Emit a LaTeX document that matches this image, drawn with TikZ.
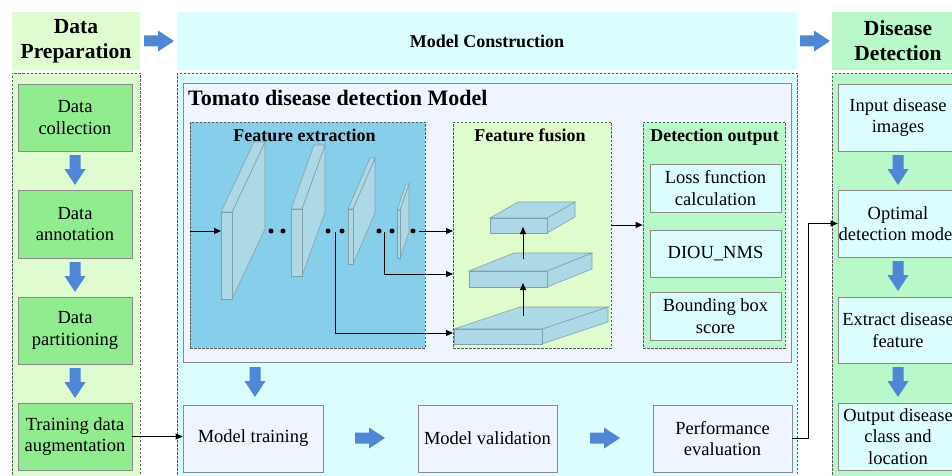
\documentclass[tikz,border=0pt]{standalone}
\usepackage{fontspec}
\setmainfont{Liberation Serif}
\usetikzlibrary{arrows.meta}

\definecolor{prepbg}{HTML}{DFFBD0}
\definecolor{prepbox}{HTML}{90EC8E}
\definecolor{cyanbg}{HTML}{DCFDFE}
\definecolor{panelbg}{HTML}{EEF5FE}
\definecolor{skyfill}{HTML}{87CEEB}
\definecolor{fusebg}{HTML}{DFFCCD}
\definecolor{detbg}{HTML}{B9F8C9}
\definecolor{slabfill}{HTML}{ADD8E6}
\definecolor{slabline}{HTML}{83A0AA}
\definecolor{flowblue}{HTML}{4F87D6}
\definecolor{boxline}{HTML}{8A8A8A}

% one 3-D feature map: front-left-top corner (#1,#2), width #3, height #4, depth offset (#5,#6)
\newcommand\slabbox[6]{%
  \begin{scope}[shift={(#1,#2)}]
    \filldraw[slab] (#3,0) -- ({#3+#5},#6) -- ({#3+#5},{#6+#4}) -- (#3,#4) -- cycle;
    \filldraw[slab] (0,0) -- (#5,#6) -- ({#3+#5},#6) -- (#3,0) -- cycle;
    \filldraw[slab] (0,0) rectangle (#3,#4);
  \end{scope}}

\begin{document}
\begin{tikzpicture}[x=1pt,y=-1pt,
  txt/.style={font=\fontsize{18.5}{21.5}\selectfont, align=center},
  box/.style={draw=boxline, line width=0.8pt, inner sep=0pt, txt},
  head/.style={font=\bfseries\fontsize{21.5}{25}\selectfont, align=center, inner sep=0pt},
  sub/.style={font=\bfseries\fontsize{18}{21}\selectfont, inner sep=0pt},
  frame/.style={draw=black!65, dash pattern=on 2.5pt off 1.5pt, line width=0.7pt, inner sep=0pt},
  slab/.style={fill=slabfill, draw=slabline, line width=0.6pt},
  link/.style={draw=black, line width=0.9pt, -{Triangle[length=7pt,width=6pt]}},
  pics/flow/.style={code={\fill[flowblue] (0,-5.5) -- (14,-5.5) -- (14,-10.5) -- (30,0) -- (14,10.5) -- (14,5.5) -- (0,5.5) -- cycle;}}
]
\useasboundingbox (0,0) rectangle (952,476);
\clip (0,0) rectangle (952,476);
\fill[white] (0,0) rectangle (952,476);

% ---------- column: data preparation ----------
\node[head, fill=prepbg, minimum width=128pt, minimum height=58pt] (hdrL) at (76,41) {Data\\Preparation};
\node[frame, fill=prepbg, minimum width=128pt, minimum height=409pt] (contL) at (76,277.5) {};
\node[box, fill=prepbox, minimum width=114pt, minimum height=67pt] (dc) at (75,117.5) {Data\\collection};
\node[box, fill=prepbox, minimum width=114pt, minimum height=68pt] (da) at (75,224) {Data\\annotation};
\node[box, fill=prepbox, minimum width=114pt, minimum height=67pt] (dp) at (75,330.5) {Data\\partitioning};
\node[box, fill=prepbox, minimum width=114pt, minimum height=67pt] (tda) at (75,436.5) {Training data\\augmentation};
\pic[rotate=-90] at (75,155) {flow};
\pic[rotate=-90] at (75,262) {flow};
\pic[rotate=-90] at (75,368) {flow};

% ---------- column: model construction ----------
\node[sub, fill=cyanbg, minimum width=620pt, minimum height=58pt] (hdrM) at (487,41) {Model Construction};
\node[frame, fill=cyanbg, minimum width=620pt, minimum height=409pt] (contM) at (487,277.5) {};
\node[draw=boxline, line width=0.8pt, fill=panelbg, minimum width=608pt, minimum height=279pt, inner sep=0pt] (panel) at (487,222.5) {};
\node[font=\bfseries\fontsize{22}{26}\selectfont, inner sep=0pt, anchor=base west] (ptitle) at (188,106) {Tomato disease detection Model};

\node[frame, fill=skyfill, minimum width=235pt, minimum height=226pt] (fe) at (307.5,235) {};
\node[frame, fill=fusebg, minimum width=158pt, minimum height=226pt] (ff) at (532,235) {};
\node[frame, fill=detbg, minimum width=142pt, minimum height=226pt] (do) at (714,235) {};
\node[sub, anchor=base] (feT) at (304.5,141) {Feature extraction};
\node[sub, anchor=base] (ffT) at (530,141) {Feature fusion};
\node[sub, anchor=base] (doT) at (714.5,141) {Detection output};

\node[box, fill=cyanbg, minimum width=131pt, minimum height=48pt] (loss) at (715.5,188) {Loss function\\calculation};
\node[box, fill=cyanbg, minimum width=131pt, minimum height=47pt] (diou) at (715.5,253.5) {DIOU\_NMS};
\node[box, fill=cyanbg, minimum width=131pt, minimum height=48pt] (bbs) at (715.5,316) {Bounding box\\score};

% backbone feature maps
\slabbox{221}{212}{11}{87}{33}{-70}
\slabbox{291}{209}{11}{67}{23}{-64}
\slabbox{348}{209}{5}{55}{22}{-51}
\slabbox{397}{210}{3}{48}{9}{-26}
\foreach \px in {271,283,328,342,379,392,413}
  \fill (\px,231) circle[radius=2.5pt];

\coordinate (inS) at (221,231);
\coordinate (tapA) at (419,231);
\coordinate (tapB) at (384,232);
\coordinate (tapC) at (335,232);
\coordinate (fuseA) at (453,231);
\coordinate (fuseB) at (453,274);
\coordinate (fuseC) at (453,333);
\draw[link] (fe.west |- inS) -- (inS);
\draw[link] (tapA) -- (fuseA);
\draw[link] (tapB) |- (fuseB);
\draw[link] (tapC) |- (fuseC);

% neck feature maps
\slabbox{454}{329}{88}{15}{66}{-22}
\slabbox{469}{271}{78}{16}{45}{-18}
\slabbox{490}{218}{57}{15}{28}{-16}
\coordinate (upA0) at (523,316);
\coordinate (upA1) at (523,283);
\coordinate (upB0) at (523,259);
\coordinate (upB1) at (523,227);
\draw[link] (upA0) -- (upA1);
\draw[link] (upB0) -- (upB1);

\draw[link] ([yshift=10pt]ff.east) -- ([yshift=10pt]do.west);

% training loop
\node[box, fill=panelbg, minimum width=140pt, minimum height=67pt] (mt) at (253,438.5) {Model training};
\node[box, fill=panelbg, minimum width=139pt, minimum height=67pt] (mv) at (487.5,438.5) {Model validation};
\node[box, fill=panelbg, minimum width=139pt, minimum height=67pt] (pe) at (722.5,438.5) {Performance\\evaluation};
\pic[rotate=-90] at (255,367) {flow};
\pic at (355,438) {flow};
\pic at (590,438) {flow};

% ---------- column: disease detection ----------
\node[head, fill=detbg, minimum width=132pt, minimum height=58pt] (hdrR) at (898,41) {Disease\\Detection};
\node[frame, fill=detbg, minimum width=132pt, minimum height=409pt] (contR) at (898,277.5) {};
\node[box, fill=cyanbg, minimum width=120pt, minimum height=67pt] (idi) at (898,117.5) {Input disease\\images};
\node[box, fill=cyanbg, minimum width=120pt, minimum height=67pt] (odm) at (898,223.5) {Optimal\\detection model};
\node[box, fill=cyanbg, minimum width=120pt, minimum height=66pt] (edf) at (898,330) {Extract disease\\feature};
\node[box, fill=cyanbg, minimum width=120pt, minimum height=67pt] (odl) at (898,436.5) {Output disease\\class and\\location};
\pic[rotate=-90] at (898,155) {flow};
\pic[rotate=-90] at (898,261) {flow};
\pic[rotate=-90] at (898,367) {flow};

% stage arrows and cross-column links
\pic at (144,41) {flow};
\pic at (800,41) {flow};
\draw[link] (tda.east) -- (tda.east -| mt.west);
\draw[link] (pe.east) -- ++(16,0) |- (odm.west);
\end{tikzpicture}
\end{document}
